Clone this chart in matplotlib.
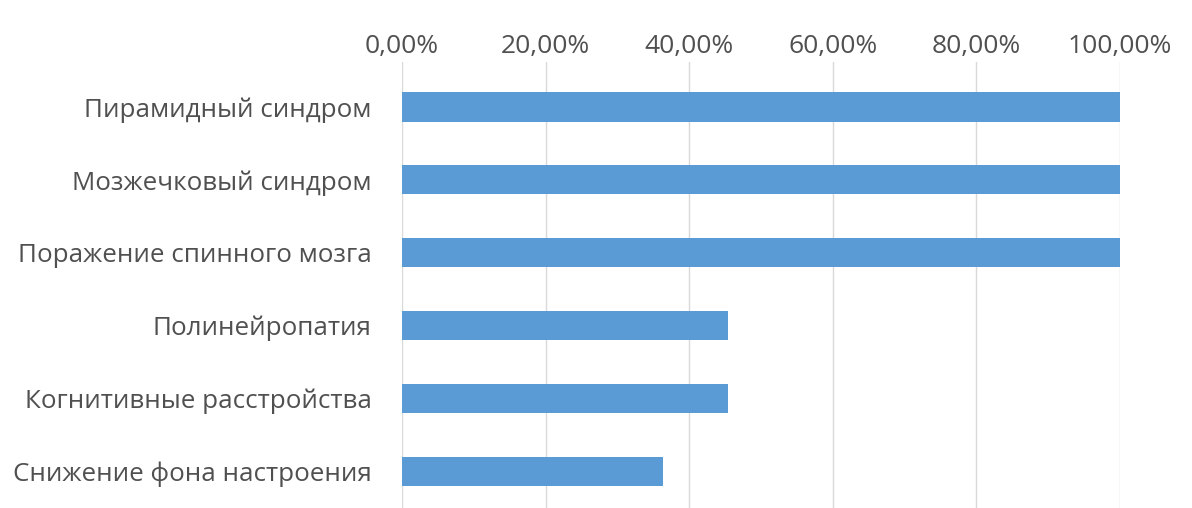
import matplotlib
matplotlib.use("Agg")
import matplotlib.pyplot as plt
from matplotlib.ticker import FuncFormatter

categories = [
    "Пирамидный синдром",
    "Мозжечковый синдром",
    "Поражение спинного мозга",
    "Полинейропатия",
    "Когнитивные расстройства",
    "Снижение фона настроения",
]
values = [100.0, 100.0, 100.0, 45.45, 45.45, 36.36]
xticks = [0, 20, 40, 60, 80, 100]

BAR = "#5B9BD5"
GRID = "#D9D9D9"
TEXT = "#505050"

plt.rcParams["font.family"] = ["Open Sans", "DejaVu Sans"]

fig = plt.figure(figsize=(11.92, 5.08), dpi=100)
ax = fig.add_axes([402 / 1192, 0.0, (1120 - 402) / 1192, (508 - 62) / 508])

pos = list(range(len(categories)))
ax.barh(pos, values, height=0.4, color=BAR, zorder=3)

ax.set_xlim(0, 100)
ax.set_ylim(5.5, -0.616)
ax.set_xticks(xticks)
ax.xaxis.set_major_formatter(FuncFormatter(lambda v, _: f"{v:.2f}%".replace(".", ",")))
ax.xaxis.tick_top()
ax.set_yticks(pos)
ax.set_yticklabels(categories)

ax.tick_params(axis="x", length=0, pad=2, labelsize=19, labelcolor=TEXT)
ax.tick_params(axis="y", length=0, pad=22, labelsize=18.7, labelcolor=TEXT)
ax.grid(axis="x", color=GRID, lw=1, zorder=0)
for s in ax.spines.values():
    s.set_visible(False)

fig.savefig("out.png", dpi=100)
